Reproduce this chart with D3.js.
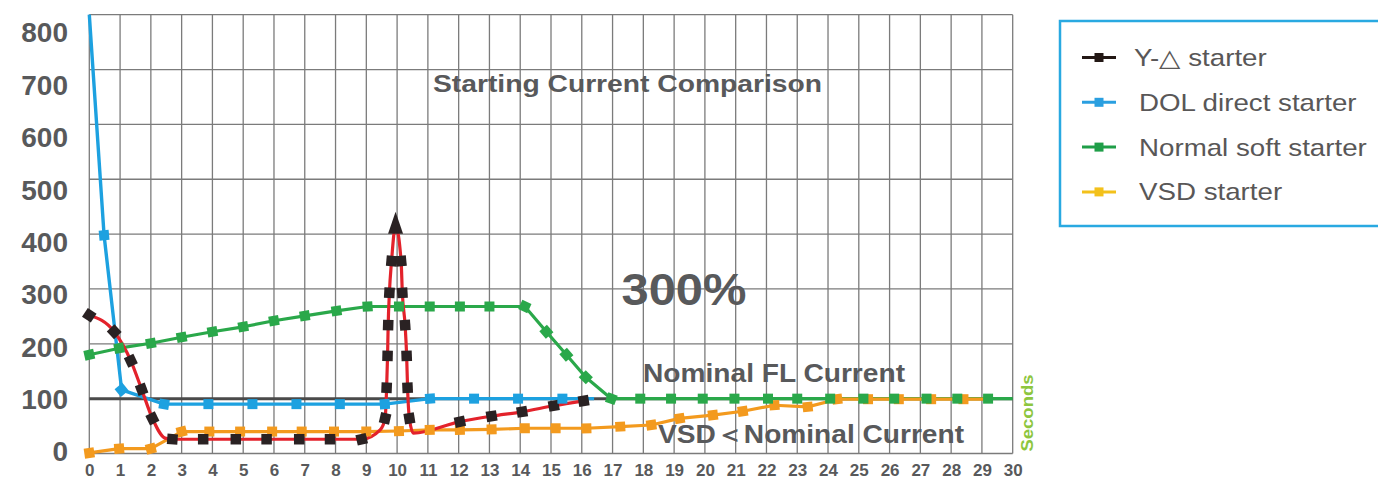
<!DOCTYPE html>
<html>
<head>
<meta charset="utf-8">
<script src="https://cdn.jsdelivr.net/npm/d3@7"></script>
<style>
  html, body { margin: 0; padding: 0; background: #ffffff; }
  svg { display: block; }
</style>
</head>
<body>
<svg id="chart" width="1378" height="479"></svg>
<script>
// ---------------- DATA ----------------
const xTickLabels = [0,1,2,3,4,5,6,7,8,9,10,11,12,13,14,15,16,17,18,19,20,21,22,23,24,25,26,27,28,29,30];
const yTickLabels = [0,100,200,300,400,500,600,700,800];
const nominalValue = 100;

// Y-△ starter (marked points)
const yDeltaX = [0,0.81,1.35,1.7,2.05,2.7,3.7,4.76,5.76,6.82,7.82,8.85,
                 9.61,9.66,9.69,9.71,9.75,9.82,9.95,10.13,10.17,10.26,10.31,10.34,10.40,
                 12.04,13.07,14.06,15.09,16.06];
const yDeltaY = [252,222,169,117,64,26,26,26,26,26,26,26,
                 64,120,178,234,293,351,415,351,293,234,178,120,64,
                 58,68,76,87,96];
// unmarked bends of the Y-△ curve
const yDeltaBendX = [2.46,9.45,10.53];
const yDeltaBendY = [28,43,37];

// DOL direct starter
const dolX = [0.48,1.05,2.43,3.87,5.3,6.73,8.14,9.6,11.07,12.5,13.93,15.37];
const dolY = [398,116,90,90,90,90,90,90,100,100,100,100];
const dolEndX = [0,16.4];
const dolEndY = [800,100];

// Normal soft starter
const softX = [0,0.97,2.0,3.0,4.0,5.0,6.0,7.0,8.03,9.04,10.06,11.06,12.04,13.0,14.15,
               14.85,15.5,16.13,16.96,17.9,18.9,19.93,20.96,22.05,23.0,24.07,25.15,26.15,27.2,28.2,29.2];
const softY = [180,192,201,212,222,231,242,251,260,268,268,268,268,268,268,
               222,180,139,100,100,100,100,100,100,100,100,100,100,100,100,100];
const softEndX = [30];
const softEndY = [100];

// VSD starter
const vsdX = [0,0.97,2.0,3.0,3.9,4.9,5.94,6.9,7.95,9.0,10.06,11.06,12.04,13.07,14.15,15.15,16.15,
              17.25,18.26,19.18,20.26,21.23,22.26,23.34,24.3,25.3,26.3,27.35,28.4];
const vsdY = [1,9,9,40,40,40,40,40,40,40,41,43,43,44,46,46,46,
              49,52,64,70,77,88,85,99,99,99,99,99];
const vsdEndX = [29.2];
const vsdEndY = [99];

const legendLabels = ["Y-△ starter","DOL direct starter","Normal soft starter","VSD starter"];

// ---------------- CHART ----------------
const svg = d3.select("#chart");
const FONT = "'Liberation Sans', Arial, Helvetica, sans-serif";
const TXT = "#58595b";

const x = d3.scaleLinear().domain([0,30]).range([89.3,1012.7]);
const y = d3.scaleLinear().domain([0,800]).range([453.5,14.7]);
const yLab = d3.scaleLinear().domain([0,800]).range([452,33]);

svg.append("rect").attr("width",1378).attr("height",479).attr("fill","#fff");

// grid
const grid = svg.append("g");
grid.selectAll("line.v").data(xTickLabels).join("line")
  .attr("x1",d=>x(d)).attr("x2",d=>x(d)).attr("y1",y(800)).attr("y2",y(0))
  .attr("stroke","#7b7b7b").attr("stroke-width",1.3);
grid.selectAll("line.h").data(yTickLabels).join("line")
  .attr("x1",x(0)).attr("x2",x(30)).attr("y1",d=>y(d)).attr("y2",d=>y(d))
  .attr("stroke","#7b7b7b").attr("stroke-width",1.3);

// nominal line
svg.append("line").attr("x1",x(0)).attr("x2",x(30))
  .attr("y1",y(nominalValue)).attr("y2",y(nominalValue))
  .attr("stroke","#4a4a4a").attr("stroke-width",3);

// axes
const yAxis = svg.append("g").attr("transform","translate(68,0)")
  .call(d3.axisLeft(yLab).tickValues(yTickLabels).tickSize(0).tickPadding(0));
yAxis.select(".domain").remove();
yAxis.selectAll("text").attr("font-family",FONT).attr("font-weight","bold")
  .attr("font-size",28).attr("fill",TXT).attr("x",0);

const xAxis = svg.append("g").attr("transform","translate(0,463.5)")
  .call(d3.axisBottom(x).tickValues(xTickLabels).tickSize(0).tickPadding(0));
xAxis.select(".domain").remove();
xAxis.selectAll("text").attr("font-family",FONT).attr("font-weight","bold")
  .attr("font-size",17).attr("fill",TXT);

// helpers
function pts(xs, ys){ return xs.map((v,i)=>({x:v,y:ys[i]})); }
function merge(a,b){ return a.concat(b).sort((p,q)=>p.x-q.x); }
function angleAt(all, p){
  const i = all.indexOf(p);
  const ang = [];
  if (i>0){ const q=all[i-1]; ang.push(Math.atan2(y(p.y)-y(q.y), x(p.x)-x(q.x))); }
  if (i<all.length-1){ const q=all[i+1]; ang.push(Math.atan2(y(q.y)-y(p.y), x(q.x)-x(p.x))); }
  return d3.mean(ang)*180/Math.PI;
}

const sYD = pts(yDeltaX,yDeltaY), sYDall = merge(sYD, pts(yDeltaBendX,yDeltaBendY));
const sDOL = pts(dolX,dolY), sDOLall = merge(sDOL, pts(dolEndX,dolEndY));
const sSoft = pts(softX,softY), sSoftAll = merge(sSoft, pts(softEndX,softEndY));
const sVSD = pts(vsdX,vsdY), sVSDall = merge(sVSD, pts(vsdEndX,vsdEndY));

const lineLin = d3.line().x(d=>x(d.x)).y(d=>y(d.y));
const lineCurve = d3.line().x(d=>x(d.x)).y(d=>y(d.y)).curve(d3.curveMonotoneX);

const series = [
  {all:sSoftAll, marks:sSoft, line:"#2aa84a", mark:"#2aa84a", w:3.2, gen:lineLin, m:10},
  {all:sDOLall, marks:sDOL, line:"#1da1e0", mark:"#1da1e0", w:3.4, gen:lineLin, m:10},
  {all:sVSDall, marks:sVSD, line:"#f39a1e", mark:"#f39a1e", w:3.2, gen:lineLin, m:10},
  {all:sYDall, marks:sYD, line:"#e3222b", mark:"#2a2223", w:3.2, gen:lineCurve, m:10.5},
];
series.forEach(s=>{
  svg.append("path").attr("d",s.gen(s.all)).attr("fill","none")
    .attr("stroke",s.line).attr("stroke-width",s.w).attr("stroke-linejoin","round");
});

const markOrder = [series[2], series[3], series[1], series[0]];
const peak = d3.max(yDeltaY);
markOrder.forEach(s=>{
  const g = svg.append("g");
  s.marks.forEach(p=>{
    const isPeak = (s===series[3] && p.y===peak);
    if (isPeak){
      g.append("path").attr("d","M0,-14L7.5,8L-7.5,8Z")
        .attr("transform",`translate(${x(p.x)},${y(p.y)})`).attr("fill",s.mark);
    } else {
      const a = angleAt(s.all,p);
      g.append("rect").attr("x",-s.m/2).attr("y",-s.m/2).attr("width",s.m).attr("height",s.m)
        .attr("transform",`translate(${x(p.x)},${y(p.y)}) rotate(${a})`)
        .attr("fill",s.mark);
    }
  });
});

// annotations
function ann(txt, px, py, size, len, color){
  svg.append("text").attr("x",px).attr("y",py).text(txt)
    .attr("font-family",FONT).attr("font-weight","bold").attr("font-size",size)
    .attr("fill",color||TXT).attr("textLength",len).attr("lengthAdjust","spacingAndGlyphs");
}
ann("Starting Current Comparison", 433, 91.5, 24, 389);
ann("300%", 621.5, 305, 45, 125);
ann("Nominal FL Current", 643, 381.5, 26, 262);
ann("VSD＜Nominal Current", 658, 443, 26, 306);
svg.append("text").attr("transform","translate(1033,413) rotate(-90)")
  .attr("text-anchor","middle").text("Seconds")
  .attr("font-family",FONT).attr("font-weight","bold").attr("font-size",17)
  .attr("fill","#8dc63f").attr("textLength",77).attr("lengthAdjust","spacingAndGlyphs");

// legend
svg.append("rect").attr("x",1060).attr("y",21).attr("width",340).attr("height",205)
  .attr("fill","none").attr("stroke","#29a9e1").attr("stroke-width",2.5);
const legColors = ["#231815","#2a9fe0","#1f9e48","#f3c11b"];
legendLabels.forEach((lab,i)=>{
  const cy = 57.5 + i*44.8;
  svg.append("line").attr("x1",1082).attr("x2",1116).attr("y1",cy).attr("y2",cy)
    .attr("stroke",legColors[i]).attr("stroke-width",3);
  svg.append("rect").attr("x",1099-4.5).attr("y",cy-4.5).attr("width",9).attr("height",9)
    .attr("fill",legColors[i]);
  svg.append("g").attr("transform",`translate(${i===0?1134:1139},${cy+8.5}) scale(1.155,1)`)
    .append("text").text(lab).attr("font-family",FONT).attr("font-size",24).attr("fill","#595757");
});
</script>
</body>
</html>
